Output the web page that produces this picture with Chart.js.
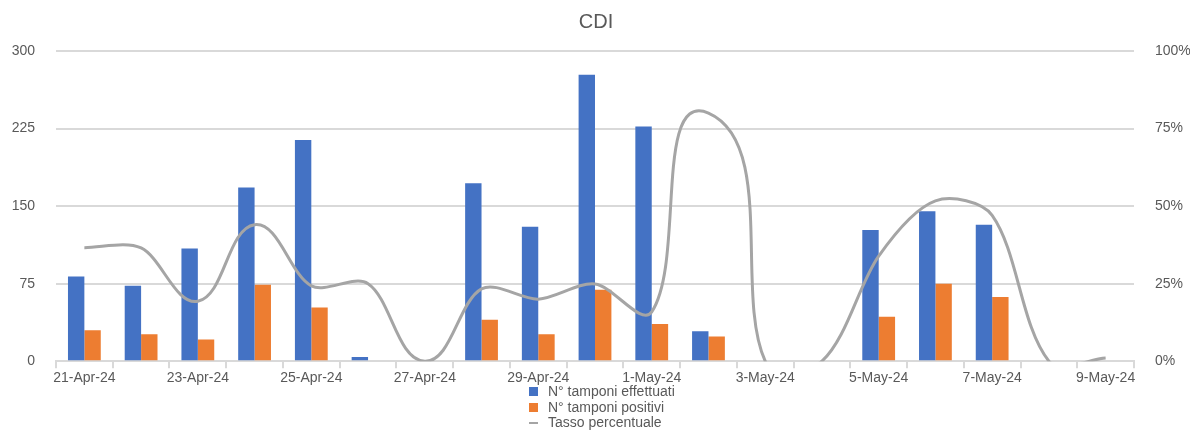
<!DOCTYPE html>
<html>
<head>
<meta charset="utf-8">
<script src="https://cdn.jsdelivr.net/npm/chart.js@4.4.1/dist/chart.umd.min.js"></script>
<style>
  html, body { margin: 0; padding: 0; background: #ffffff; }
  #wrap { position: relative; width: 1192px; height: 432px; }
  #legend { position: absolute; left: 529px; top: 384px; font-family: "Liberation Sans", Arial, sans-serif; font-size: 14px; color: #595959; }
  .li { display: flex; align-items: center; height: 15.5px; line-height: 15.5px; white-space: nowrap; }
  .mk { width: 9px; height: 9px; margin-right: 10px; flex: none; }
  .mk.line { height: 2px; }
</style>
</head>
<body>
<div id="wrap">
  <canvas id="c" width="1192" height="432"></canvas>
  <div id="legend"></div>
</div>
<script>
const categories = ['21-Apr-24','22-Apr-24','23-Apr-24','24-Apr-24','25-Apr-24','26-Apr-24','27-Apr-24','28-Apr-24','29-Apr-24','30-Apr-24','1-May-24','2-May-24','3-May-24','4-May-24','5-May-24','6-May-24','7-May-24','8-May-24','9-May-24'];
const tamponiEffettuati = [82, 73, 109, 168, 214, 4, 0, 172, 130, 277, 227, 29, 0, 0, 127, 145, 132, 0, 0];
const tamponiPositivi   = [30, 26, 21, 74, 52, 0, 0, 40, 26, 69, 36, 24, 0, 0, 43, 75, 62, 0, 0];
const tassoPercentuale  = [36.6, 36.5, 19.3, 44, 24.3, 25, 0, 23.3, 20, 24.9, 15.9, 80, 0, 0, 33.9, 51.7, 47, 0, 1];
const leftTicks  = [0, 75, 150, 225, 300];
const rightTickValues = [0, 25, 50, 75, 100];
const rightTickLabels = ['0%', '25%', '50%', '75%', '100%'];
const seriesNames = ['N° tamponi effettuati', 'N° tamponi positivi', 'Tasso percentuale'];

const FONT = '"Liberation Sans", Arial, sans-serif';
const TEXT = '#595959';
const GRID = '#d9d9d9';
const SMOOTH = 0.29;

// Spreadsheet-style smoothing: control handles follow the neighbour tangent,
// with a length proportional to the adjoining segment (computed from the
// pixel positions Chart.js assigned to the points).
const smoothPlugin = {
  id: 'sheetSmooth',
  beforeDatasetDraw(chart, args) {
    const meta = chart.getDatasetMeta(args.index);
    if (meta.type !== 'line' || !meta.dataset) return;
    const pts = meta.data;
    const n = pts.length;
    for (let i = 0; i < n; i++) {
      const p = pts[i];
      const prev = pts[Math.max(i - 1, 0)];
      const next = pts[Math.min(i + 1, n - 1)];
      let tx = next.x - prev.x, ty = next.y - prev.y;
      const len = Math.hypot(tx, ty) || 1;
      tx /= len; ty /= len;
      const dPrev = i > 0 ? Math.hypot(p.x - prev.x, p.y - prev.y) : 0;
      const dNext = i < n - 1 ? Math.hypot(next.x - p.x, next.y - p.y) : 0;
      p.cp1x = p.x - tx * SMOOTH * dPrev;
      p.cp1y = p.y - ty * SMOOTH * dPrev;
      p.cp2x = p.x + tx * SMOOTH * dNext;
      p.cp2y = p.y + ty * SMOOTH * dNext;
    }
    meta.dataset._pointsUpdated = true;
    meta.dataset._path = undefined;
  }
};

const chart = new Chart(document.getElementById('c'), {
  type: 'bar',
  plugins: [smoothPlugin],
  data: {
    labels: categories,
    datasets: [
      {
        type: 'line',
        label: seriesNames[2],
        data: tassoPercentuale,
        yAxisID: 'y1',
        borderColor: '#a5a5a5',
        backgroundColor: '#a5a5a5',
        borderWidth: 3,
        pointRadius: 0,
        tension: 0.4,
        fill: false,
        order: 0,
        clip: { left: false, top: false, right: false, bottom: 0 }
      },
      {
        label: seriesNames[0],
        data: tamponiEffettuati,
        backgroundColor: '#4472c4',
        yAxisID: 'y',
        categoryPercentage: 0.578,
        barPercentage: 1.0,
        order: 1
      },
      {
        label: seriesNames[1],
        data: tamponiPositivi,
        backgroundColor: '#ed7d31',
        yAxisID: 'y',
        categoryPercentage: 0.578,
        barPercentage: 1.0,
        order: 1
      }
    ]
  },
  options: {
    responsive: false,
    animation: false,
    devicePixelRatio: 1,
    layout: { padding: { left: 2, right: 2, top: 0, bottom: 43 } },
    elements: { line: { capBezierPoints: false } },
    plugins: {
      legend: { display: false },
      tooltip: { enabled: false },
      title: {
        display: true,
        text: 'CDI',
        color: TEXT,
        font: { family: FONT, size: 20, weight: 'normal' },
        padding: { top: 10, bottom: 17 }
      }
    },
    scales: {
      x: {
        offset: true,
        grid: { offset: true, drawOnChartArea: false, drawTicks: true, tickLength: 7, color: GRID, lineWidth: 2 },
        border: { display: true, color: GRID, width: 2 },
        ticks: {
          autoSkip: false,
          maxRotation: 0,
          minRotation: 0,
          padding: 2,
          color: TEXT,
          font: { family: FONT, size: 14 },
          callback: (v, i) => (i % 2 === 0 ? categories[i] : '')
        }
      },
      y: {
        position: 'left',
        min: 0,
        max: 300,
        afterBuildTicks: s => { s.ticks = leftTicks.map(v => ({ value: v })); },
        afterFit: s => { s.width = 54; },
        grid: { color: GRID, lineWidth: 2, drawTicks: false },
        border: { display: false },
        ticks: { padding: 21, color: TEXT, font: { family: FONT, size: 14 } }
      },
      y1: {
        position: 'right',
        min: 0,
        max: 100,
        afterBuildTicks: s => { s.ticks = rightTickValues.map(v => ({ value: v })); },
        afterFit: s => { s.width = 56; },
        grid: { drawOnChartArea: false, drawTicks: false },
        border: { display: false },
        ticks: {
          padding: 21,
          color: TEXT,
          font: { family: FONT, size: 14 },
          callback: (v, i) => rightTickLabels[i]
        }
      }
    }
  }
});

// HTML legend built from the chart's datasets (bars first, then line)
const legendEl = document.getElementById('legend');
[1, 2, 0].forEach(idx => {
  const ds = chart.data.datasets[idx];
  const row = document.createElement('div');
  row.className = 'li';
  const mk = document.createElement('span');
  mk.className = 'mk' + (ds.type === 'line' ? ' line' : '');
  mk.style.background = ds.type === 'line' ? ds.borderColor : ds.backgroundColor;
  const tx = document.createElement('span');
  tx.textContent = ds.label;
  row.appendChild(mk);
  row.appendChild(tx);
  legendEl.appendChild(row);
});
</script>
</body>
</html>
